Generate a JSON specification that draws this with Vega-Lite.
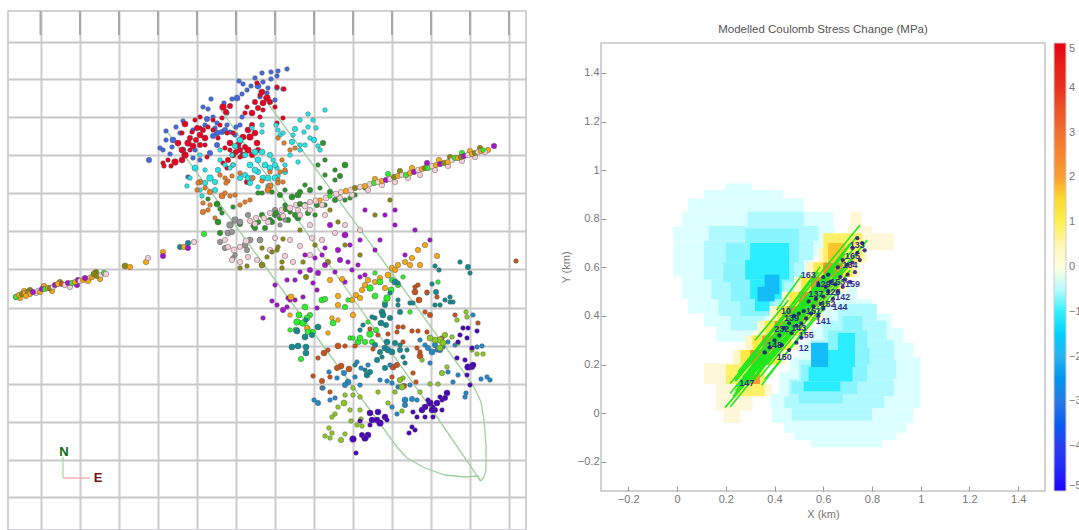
{"$schema":"https://vega.github.io/schema/vega-lite/v6.json","background":"white","padding":{"left":7,"top":9,"right":0,"bottom":0},"spacing":32,"config":{"font":"Liberation Sans","view":{"stroke":"#c4c4c8","strokeWidth":1.5},"axis":{"labelColor":"#777","titleColor":"#777","labelFontSize":11,"titleFontSize":11,"titleFontWeight":"normal","grid":false}},
"hconcat":[
{"width":518,"height":519,"layer":[
{"data":{"values":[{"x":40.5,"y":11,"y2":35},{"x":80,"y":11,"y2":35},{"x":119,"y":11,"y2":35},{"x":158,"y":11,"y2":35},{"x":197,"y":11,"y2":35},{"x":236,"y":11,"y2":35},{"x":275,"y":11,"y2":35},{"x":314,"y":11,"y2":35},{"x":353,"y":11,"y2":35},{"x":392,"y":11,"y2":35},{"x":431,"y":11,"y2":35},{"x":470,"y":11,"y2":35},{"x":509,"y":11,"y2":35}]},"mark":{"type":"rule","color":"#a8a8a8","strokeWidth":2},"encoding":{"x":{"field":"x","type":"quantitative","scale":{"domain":[8,526],"nice":false,"zero":false},"axis":{"values":[40.5,80,119,158,197,236,275,314,353,392,431,470,509],"labels":false,"ticks":false,"domain":false,"title":null,"grid":true,"gridColor":"#cccccc","gridWidth":2}},"y":{"field":"y","type":"quantitative","scale":{"domain":[11,530],"nice":false,"zero":false,"reverse":true},"axis":{"values":[41.5,79,117,155,193,231,269,307.5,345.5,383.5,421.5,459.5,497],"labels":false,"ticks":false,"domain":false,"title":null,"grid":true,"gridColor":"#c8c8c8","gridWidth":2}},"y2":{"field":"y2"}}},
{"data":{"values":[{"l":"A","o":1,"x":168,"y":133},{"l":"A","o":2,"x":270,"y":273},{"l":"A","o":3,"x":397,"y":447},{"l":"A","o":4,"x":407,"y":458},{"l":"A","o":5,"x":425,"y":468},{"l":"A","o":6,"x":445,"y":475},{"l":"A","o":7,"x":465,"y":477},{"l":"A","o":8,"x":478,"y":476},{"l":"A","o":9,"x":480,"y":481},{"l":"B","o":1,"x":221,"y":110},{"l":"B","o":2,"x":333,"y":270},{"l":"B","o":3,"x":437,"y":417},{"l":"B","o":4,"x":478,"y":477},{"l":"B","o":5,"x":481,"y":481},{"l":"C","o":1,"x":258,"y":90},{"l":"C","o":2,"x":392,"y":273},{"l":"C","o":3,"x":473,"y":385},{"l":"C","o":4,"x":481,"y":402},{"l":"C","o":5,"x":484,"y":420},{"l":"C","o":6,"x":486,"y":445},{"l":"C","o":7,"x":486,"y":470},{"l":"C","o":8,"x":484,"y":477},{"l":"C","o":9,"x":481,"y":481}]},"mark":{"type":"line","color":"#9fd09f","strokeWidth":1.3},"encoding":{"x":{"field":"x","type":"quantitative"},"y":{"field":"y","type":"quantitative"},"detail":{"field":"l"},"order":{"field":"o"}}},
{"data":{"values":[
{"g":"a","m":1,"x":287,"y":69},{"g":"a","m":1,"x":278,"y":71},{"g":"a","m":1,"x":271,"y":72},{"g":"a","m":1,"x":277,"y":76},{"g":"a","m":1,"x":271,"y":79},{"g":"a","m":1,"x":239,"y":81},{"g":"a","m":1,"x":243,"y":84},{"g":"a","m":3,"x":258,"y":86},{"g":"a","m":1,"x":263,"y":82},{"g":"a","m":1,"x":251,"y":86},{"g":"a","m":1,"x":247,"y":90},{"g":"a","m":1,"x":242,"y":94},{"g":"a","m":3,"x":237,"y":98},{"g":"a","m":1,"x":232,"y":99},{"g":"a","m":1,"x":211,"y":99},{"g":"a","m":1,"x":203,"y":107},{"g":"a","m":1,"x":208,"y":109},{"g":"a","m":1,"x":224,"y":103},{"g":"a","m":1,"x":227,"y":113},{"g":"a","m":2,"x":207,"y":119},{"g":"a","m":1,"x":213,"y":117},{"g":"a","m":1,"x":217,"y":123},{"g":"a","m":1,"x":227,"y":125},{"g":"a","m":1,"x":236,"y":127},{"g":"a","m":1,"x":176,"y":127},{"g":"a","m":1,"x":166,"y":131},{"g":"a","m":1,"x":183,"y":121},{"g":"a","m":1,"x":193,"y":130},{"g":"a","m":3,"x":173,"y":140},{"g":"a","m":1,"x":172,"y":147},{"g":"a","m":1,"x":163,"y":150},{"g":"a","m":1,"x":160,"y":148},{"g":"a","m":3,"x":183,"y":150},{"g":"a","m":1,"x":170,"y":154},{"g":"a","m":2,"x":149,"y":160},{"g":"a","m":3,"x":217,"y":133},{"g":"a","m":2,"x":222,"y":132},{"g":"a","m":2,"x":213,"y":136},{"g":"a","m":2,"x":217,"y":145},{"g":"a","m":2,"x":210,"y":153},{"g":"a","m":1,"x":200,"y":160},{"g":"a","m":1,"x":193,"y":158},{"g":"a","m":1,"x":188,"y":177},{"g":"a","m":1,"x":267,"y":93},{"g":"a","m":1,"x":277,"y":88},{"g":"a","m":1,"x":283,"y":89},{"g":"a","m":1,"x":275,"y":100},{"g":"a","m":1,"x":242,"y":117},{"g":"a","m":1,"x":230,"y":132},{"g":"a","m":1,"x":255,"y":78},{"g":"a","m":1,"x":262,"y":73},{"g":"a","m":1,"x":268,"y":88},{"g":"a","m":1,"x":215,"y":128},{"g":"a","m":1,"x":205,"y":125},{"g":"a","m":2,"x":225,"y":130},{"g":"a","m":1,"x":180,"y":133},{"g":"a","m":1,"x":166,"y":140},{"g":"a","m":1,"x":195,"y":150},{"g":"a","m":1,"x":235,"y":135},{"g":"a","m":1,"x":240,"y":125},{"g":"a","m":1,"x":260,"y":97},
{"g":"b","m":1,"x":284,"y":89},{"g":"b","m":1,"x":277,"y":87},{"g":"b","m":4,"x":267,"y":98},{"g":"b","m":3,"x":263,"y":103},{"g":"b","m":2,"x":255,"y":102},{"g":"b","m":1,"x":260,"y":95},{"g":"b","m":1,"x":257,"y":83},{"g":"b","m":1,"x":275,"y":107},{"g":"b","m":1,"x":283,"y":118},{"g":"b","m":1,"x":277,"y":123},{"g":"b","m":1,"x":260,"y":117},{"g":"b","m":3,"x":252,"y":113},{"g":"b","m":1,"x":245,"y":113},{"g":"b","m":1,"x":247,"y":107},{"g":"b","m":4,"x":223,"y":107},{"g":"b","m":2,"x":230,"y":106},{"g":"b","m":1,"x":200,"y":117},{"g":"b","m":1,"x":195,"y":120},{"g":"b","m":3,"x":185,"y":124},{"g":"b","m":1,"x":208,"y":127},{"g":"b","m":1,"x":213,"y":130},{"g":"b","m":3,"x":200,"y":135},{"g":"b","m":3,"x":205,"y":138},{"g":"b","m":1,"x":192,"y":132},{"g":"b","m":1,"x":182,"y":133},{"g":"b","m":4,"x":188,"y":143},{"g":"b","m":3,"x":193,"y":146},{"g":"b","m":2,"x":200,"y":145},{"g":"b","m":4,"x":185,"y":155},{"g":"b","m":4,"x":175,"y":162},{"g":"b","m":1,"x":190,"y":150},{"g":"b","m":1,"x":163,"y":163},{"g":"b","m":1,"x":164,"y":166},{"g":"b","m":1,"x":168,"y":160},{"g":"b","m":3,"x":230,"y":143},{"g":"b","m":1,"x":240,"y":142},{"g":"b","m":4,"x":250,"y":137},{"g":"b","m":3,"x":255,"y":133},{"g":"b","m":3,"x":248,"y":130},{"g":"b","m":3,"x":257,"y":143},{"g":"b","m":4,"x":248,"y":150},{"g":"b","m":3,"x":243,"y":155},{"g":"b","m":3,"x":233,"y":155},{"g":"b","m":1,"x":230,"y":150},{"g":"b","m":1,"x":225,"y":148},{"g":"b","m":1,"x":227,"y":133},{"g":"b","m":1,"x":240,"y":157},{"g":"b","m":1,"x":223,"y":163},{"g":"b","m":1,"x":227,"y":168},{"g":"b","m":1,"x":233,"y":165},{"g":"b","m":2,"x":247,"y":182},{"g":"b","m":1,"x":200,"y":128},{"g":"b","m":1,"x":213,"y":120},{"g":"b","m":1,"x":220,"y":125},{"g":"b","m":1,"x":207,"y":157},{"g":"b","m":1,"x":218,"y":138},{"g":"b","m":2,"x":245,"y":147},{"g":"b","m":1,"x":233,"y":133},{"g":"b","m":1,"x":263,"y":110},{"g":"b","m":3,"x":262,"y":92},{"g":"b","m":2,"x":270,"y":102},{"g":"b","m":2,"x":258,"y":108},{"g":"b","m":2,"x":226,"y":112},{"g":"b","m":1,"x":222,"y":118},{"g":"b","m":2,"x":197,"y":128},{"g":"b","m":2,"x":203,"y":130},{"g":"b","m":3,"x":178,"y":143},{"g":"b","m":3,"x":182,"y":150},{"g":"b","m":2,"x":190,"y":138},{"g":"b","m":2,"x":196,"y":140},{"g":"b","m":3,"x":182,"y":160},{"g":"b","m":1,"x":171,"y":166},{"g":"b","m":3,"x":238,"y":145},{"g":"b","m":3,"x":243,"y":137},{"g":"b","m":2,"x":252,"y":125},{"g":"b","m":2,"x":240,"y":150},{"g":"b","m":2,"x":236,"y":152},{"g":"b","m":2,"x":228,"y":160},{"g":"b","m":2,"x":252,"y":155},{"g":"b","m":2,"x":258,"y":150},{"g":"b","m":1,"x":205,"y":145},
{"g":"c","m":1,"x":325,"y":110},{"g":"c","m":1,"x":308,"y":114},{"g":"c","m":1,"x":300,"y":120},{"g":"c","m":1,"x":313,"y":120},{"g":"c","m":1,"x":308,"y":127},{"g":"c","m":1,"x":316,"y":128},{"g":"c","m":1,"x":318,"y":146},{"g":"c","m":1,"x":304,"y":132},{"g":"c","m":1,"x":252,"y":128},{"g":"c","m":1,"x":262,"y":125},{"g":"c","m":1,"x":276,"y":125},{"g":"c","m":1,"x":280,"y":135},{"g":"c","m":1,"x":278,"y":130},{"g":"c","m":1,"x":293,"y":135},{"g":"c","m":1,"x":283,"y":133},{"g":"c","m":2,"x":295,"y":129},{"g":"c","m":3,"x":240,"y":140},{"g":"c","m":2,"x":235,"y":146},{"g":"c","m":3,"x":255,"y":152},{"g":"c","m":3,"x":262,"y":152},{"g":"c","m":2,"x":270,"y":155},{"g":"c","m":3,"x":250,"y":165},{"g":"c","m":2,"x":258,"y":172},{"g":"c","m":3,"x":270,"y":168},{"g":"c","m":3,"x":263,"y":178},{"g":"c","m":2,"x":245,"y":175},{"g":"c","m":2,"x":240,"y":178},{"g":"c","m":1,"x":273,"y":160},{"g":"c","m":1,"x":285,"y":165},{"g":"c","m":3,"x":265,"y":165},{"g":"c","m":1,"x":220,"y":150},{"g":"c","m":1,"x":225,"y":165},{"g":"c","m":1,"x":232,"y":155},{"g":"c","m":1,"x":220,"y":160},{"g":"c","m":3,"x":195,"y":168},{"g":"c","m":1,"x":200,"y":155},{"g":"c","m":4,"x":210,"y":178},{"g":"c","m":2,"x":205,"y":183},{"g":"c","m":2,"x":215,"y":182},{"g":"c","m":1,"x":187,"y":186},{"g":"c","m":1,"x":200,"y":190},{"g":"c","m":2,"x":215,"y":190},{"g":"c","m":1,"x":233,"y":165},{"g":"c","m":1,"x":230,"y":168},{"g":"c","m":2,"x":250,"y":183},{"g":"c","m":1,"x":258,"y":187},{"g":"c","m":1,"x":290,"y":155},{"g":"c","m":1,"x":298,"y":162},{"g":"c","m":1,"x":277,"y":168},{"g":"c","m":1,"x":278,"y":176},{"g":"c","m":1,"x":310,"y":138},{"g":"c","m":1,"x":300,"y":150},{"g":"c","m":1,"x":268,"y":186},{"g":"c","m":1,"x":202,"y":196},{"g":"c","m":2,"x":245,"y":155},{"g":"c","m":3,"x":258,"y":160},{"g":"c","m":3,"x":275,"y":178},{"g":"c","m":3,"x":268,"y":178},{"g":"c","m":3,"x":255,"y":170},{"g":"c","m":2,"x":248,"y":178},{"g":"c","m":2,"x":275,"y":165},{"g":"c","m":2,"x":252,"y":178},{"g":"c","m":2,"x":285,"y":172},{"g":"c","m":2,"x":292,"y":142},{"g":"c","m":1,"x":300,"y":145},{"g":"c","m":1,"x":305,"y":145},{"g":"c","m":2,"x":314,"y":140},{"g":"c","m":1,"x":320,"y":150},{"g":"c","m":1,"x":262,"y":132},{"g":"c","m":1,"x":205,"y":170},{"g":"c","m":1,"x":190,"y":178},{"g":"c","m":2,"x":218,"y":170},
{"g":"d","m":1,"x":270,"y":172},{"g":"d","m":1,"x":285,"y":170},{"g":"d","m":1,"x":262,"y":181},{"g":"d","m":1,"x":280,"y":172},{"g":"d","m":1,"x":240,"y":173},{"g":"d","m":1,"x":278,"y":180},{"g":"d","m":3,"x":270,"y":186},{"g":"d","m":3,"x":268,"y":190},{"g":"d","m":1,"x":278,"y":183},{"g":"d","m":1,"x":283,"y":182},{"g":"d","m":1,"x":225,"y":178},{"g":"d","m":1,"x":228,"y":181},{"g":"d","m":1,"x":232,"y":176},{"g":"d","m":2,"x":200,"y":182},{"g":"d","m":2,"x":210,"y":192},{"g":"d","m":1,"x":197,"y":190},{"g":"d","m":1,"x":226,"y":183},{"g":"d","m":1,"x":198,"y":183},{"g":"d","m":1,"x":205,"y":188},{"g":"d","m":1,"x":235,"y":195},{"g":"d","m":3,"x":222,"y":196},{"g":"d","m":1,"x":230,"y":196},{"g":"d","m":1,"x":245,"y":202},{"g":"d","m":1,"x":250,"y":200},{"g":"d","m":1,"x":203,"y":203},{"g":"d","m":2,"x":203,"y":212},{"g":"d","m":1,"x":210,"y":205},{"g":"d","m":1,"x":225,"y":193},{"g":"d","m":1,"x":215,"y":218},{"g":"d","m":1,"x":253,"y":178},{"g":"d","m":1,"x":278,"y":138},{"g":"d","m":1,"x":284,"y":143},{"g":"d","m":1,"x":290,"y":150},{"g":"d","m":1,"x":282,"y":160},{"g":"d","m":1,"x":220,"y":175},{"g":"d","m":1,"x":240,"y":205},{"g":"d","m":1,"x":295,"y":148},{"g":"d","m":1,"x":208,"y":210},
{"g":"e","m":3,"x":217,"y":204},{"g":"e","m":1,"x":208,"y":199},{"g":"e","m":1,"x":220,"y":209},{"g":"e","m":3,"x":218,"y":222},{"g":"e","m":1,"x":222,"y":213},{"g":"e","m":1,"x":262,"y":193},{"g":"e","m":1,"x":258,"y":193},{"g":"e","m":1,"x":272,"y":192},{"g":"e","m":2,"x":280,"y":195},{"g":"e","m":3,"x":292,"y":197},{"g":"e","m":3,"x":298,"y":195},{"g":"e","m":1,"x":285,"y":205},{"g":"e","m":1,"x":290,"y":212},{"g":"e","m":3,"x":298,"y":218},{"g":"e","m":2,"x":272,"y":222},{"g":"e","m":2,"x":265,"y":228},{"g":"e","m":1,"x":253,"y":226},{"g":"e","m":1,"x":233,"y":207},{"g":"e","m":1,"x":305,"y":185},{"g":"e","m":1,"x":325,"y":175},{"g":"e","m":1,"x":318,"y":165},{"g":"e","m":1,"x":325,"y":160},{"g":"e","m":2,"x":340,"y":176},{"g":"e","m":3,"x":345,"y":165},{"g":"e","m":1,"x":335,"y":170},{"g":"e","m":1,"x":355,"y":195},{"g":"e","m":2,"x":330,"y":192},{"g":"e","m":2,"x":310,"y":190},{"g":"e","m":2,"x":305,"y":205},{"g":"e","m":1,"x":315,"y":215},{"g":"e","m":2,"x":275,"y":215},{"g":"e","m":2,"x":288,"y":220},{"g":"e","m":1,"x":325,"y":205},{"g":"e","m":2,"x":240,"y":224},{"g":"e","m":2,"x":255,"y":228},{"g":"e","m":1,"x":345,"y":200},{"g":"e","m":1,"x":365,"y":188},{"g":"e","m":2,"x":220,"y":233},{"g":"e","m":2,"x":323,"y":143},{"g":"e","m":2,"x":258,"y":222},{"g":"e","m":2,"x":270,"y":220},{"g":"e","m":2,"x":280,"y":218},{"g":"e","m":2,"x":295,"y":215},{"g":"e","m":2,"x":308,"y":213},{"g":"e","m":2,"x":317,"y":205},{"g":"e","m":2,"x":335,"y":200},{"g":"e","m":1,"x":350,"y":198},{"g":"e","m":2,"x":300,"y":192},{"g":"e","m":1,"x":320,"y":188},{"g":"e","m":1,"x":335,"y":180},{"g":"e","m":1,"x":285,"y":190},
{"g":"f","m":4,"x":230,"y":225},{"g":"f","m":4,"x":235,"y":220},{"g":"f","m":3,"x":228,"y":233},{"g":"f","m":2,"x":248,"y":215},{"g":"f","m":3,"x":240,"y":222},{"g":"f","m":3,"x":260,"y":240},{"g":"f","m":2,"x":220,"y":242},{"g":"f","m":2,"x":225,"y":248},{"g":"f","m":3,"x":245,"y":245},{"g":"f","m":3,"x":250,"y":240},{"g":"f","m":2,"x":247,"y":250},{"g":"f","m":1,"x":235,"y":255},{"g":"f","m":1,"x":233,"y":258},{"g":"f","m":2,"x":275,"y":210},{"g":"f","m":1,"x":278,"y":215},{"g":"f","m":1,"x":285,"y":220},{"g":"f","m":2,"x":232,"y":232},{"g":"f","m":1,"x":280,"y":225},
{"g":"g","m":2,"x":225,"y":240},{"g":"g","m":2,"x":228,"y":247},{"g":"g","m":3,"x":234,"y":250},{"g":"g","m":2,"x":240,"y":247},{"g":"g","m":3,"x":246,"y":241},{"g":"g","m":2,"x":232,"y":260},{"g":"g","m":2,"x":240,"y":262},{"g":"g","m":2,"x":248,"y":257},{"g":"g","m":2,"x":257,"y":260},{"g":"g","m":2,"x":290,"y":240},{"g":"g","m":2,"x":285,"y":256},{"g":"g","m":2,"x":300,"y":215},{"g":"g","m":2,"x":310,"y":225},{"g":"g","m":2,"x":325,"y":215},{"g":"g","m":2,"x":335,"y":233},{"g":"g","m":2,"x":300,"y":246},{"g":"g","m":2,"x":312,"y":238},{"g":"g","m":2,"x":322,"y":240},{"g":"g","m":2,"x":345,"y":225},{"g":"g","m":2,"x":360,"y":230},{"g":"g","m":2,"x":293,"y":262},{"g":"g","m":2,"x":310,"y":255},{"g":"g","m":2,"x":275,"y":238},{"g":"g","m":2,"x":270,"y":250},
{"g":"h","m":1,"x":283,"y":239},{"g":"h","m":1,"x":278,"y":247},{"g":"h","m":1,"x":277,"y":250},{"g":"h","m":1,"x":272,"y":252},{"g":"h","m":1,"x":262,"y":248},{"g":"h","m":3,"x":262,"y":265},{"g":"h","m":1,"x":267,"y":257},{"g":"h","m":1,"x":247,"y":266},{"g":"h","m":1,"x":240,"y":268},{"g":"h","m":1,"x":282,"y":262},{"g":"h","m":1,"x":300,"y":230},{"g":"h","m":1,"x":315,"y":245},{"g":"h","m":1,"x":330,"y":210},{"g":"h","m":1,"x":345,"y":245},{"g":"h","m":1,"x":360,"y":255},{"g":"h","m":2,"x":306,"y":277},{"g":"h","m":1,"x":282,"y":268},{"g":"h","m":2,"x":328,"y":262},{"g":"h","m":1,"x":338,"y":222},{"g":"h","m":1,"x":375,"y":215},{"g":"h","m":1,"x":390,"y":200},{"g":"h","m":1,"x":303,"y":262},
{"g":"i","m":2,"x":325,"y":265},{"g":"i","m":1,"x":348,"y":262},{"g":"i","m":1,"x":358,"y":265},{"g":"i","m":1,"x":365,"y":275},{"g":"i","m":1,"x":345,"y":282},{"g":"i","m":2,"x":318,"y":273},{"g":"i","m":1,"x":313,"y":283},{"g":"i","m":1,"x":317,"y":290},{"g":"i","m":1,"x":287,"y":280},{"g":"i","m":1,"x":295,"y":280},{"g":"i","m":1,"x":272,"y":301},{"g":"i","m":1,"x":277,"y":305},{"g":"i","m":1,"x":303,"y":297},{"g":"i","m":2,"x":283,"y":310},{"g":"i","m":1,"x":287,"y":307},{"g":"i","m":1,"x":317,"y":308},{"g":"i","m":1,"x":288,"y":298},{"g":"i","m":1,"x":360,"y":277},{"g":"i","m":2,"x":330,"y":225},{"g":"i","m":3,"x":345,"y":235},{"g":"i","m":1,"x":350,"y":245},{"g":"i","m":2,"x":338,"y":250},{"g":"i","m":1,"x":365,"y":210},{"g":"i","m":1,"x":385,"y":215},{"g":"i","m":1,"x":395,"y":225},{"g":"i","m":1,"x":380,"y":240},{"g":"i","m":1,"x":395,"y":210},{"g":"i","m":1,"x":360,"y":240},{"g":"i","m":1,"x":375,"y":250},{"g":"i","m":1,"x":405,"y":255},{"g":"i","m":1,"x":430,"y":240},{"g":"i","m":1,"x":415,"y":230},{"g":"i","m":1,"x":325,"y":248},{"g":"i","m":2,"x":340,"y":260},{"g":"i","m":1,"x":315,"y":258},{"g":"i","m":1,"x":263,"y":318},{"g":"i","m":1,"x":275,"y":285},{"g":"i","m":1,"x":290,"y":300},{"g":"i","m":1,"x":300,"y":272},{"g":"i","m":2,"x":310,"y":270},{"g":"i","m":1,"x":335,"y":272},{"g":"i","m":1,"x":352,"y":270},{"g":"i","m":1,"x":322,"y":255},{"g":"i","m":1,"x":305,"y":255},{"g":"i","m":1,"x":295,"y":300},
{"g":"j","m":3,"x":291,"y":297},{"g":"j","m":2,"x":338,"y":296},{"g":"j","m":2,"x":338,"y":305},{"g":"j","m":2,"x":360,"y":298},{"g":"j","m":2,"x":362,"y":290},{"g":"j","m":2,"x":365,"y":285},{"g":"j","m":2,"x":375,"y":282},{"g":"j","m":2,"x":385,"y":288},{"g":"j","m":2,"x":392,"y":268},{"g":"j","m":2,"x":398,"y":265},{"g":"j","m":3,"x":388,"y":275},{"g":"j","m":2,"x":405,"y":262},{"g":"j","m":2,"x":412,"y":258},{"g":"j","m":2,"x":420,"y":265},{"g":"j","m":2,"x":418,"y":250},{"g":"j","m":2,"x":425,"y":245},{"g":"j","m":2,"x":342,"y":279},{"g":"j","m":2,"x":330,"y":280},{"g":"j","m":2,"x":307,"y":328},{"g":"j","m":1,"x":328,"y":333},{"g":"j","m":2,"x":353,"y":315},{"g":"j","m":1,"x":290,"y":315},{"g":"j","m":1,"x":332,"y":318},{"g":"j","m":1,"x":338,"y":320},{"g":"j","m":2,"x":437,"y":256},{"g":"j","m":2,"x":352,"y":300},{"g":"j","m":2,"x":356,"y":295},{"g":"j","m":2,"x":380,"y":278},{"g":"j","m":2,"x":395,"y":270},{"g":"j","m":2,"x":368,"y":280},{"g":"j","m":2,"x":410,"y":265},
{"g":"k","m":4,"x":297,"y":322},{"g":"k","m":4,"x":303,"y":323},{"g":"k","m":3,"x":305,"y":307},{"g":"k","m":2,"x":310,"y":315},{"g":"k","m":3,"x":308,"y":332},{"g":"k","m":2,"x":313,"y":332},{"g":"k","m":3,"x":333,"y":323},{"g":"k","m":3,"x":322,"y":300},{"g":"k","m":2,"x":325,"y":299},{"g":"k","m":2,"x":345,"y":307},{"g":"k","m":1,"x":348,"y":300},{"g":"k","m":4,"x":370,"y":288},{"g":"k","m":3,"x":380,"y":282},{"g":"k","m":4,"x":387,"y":298},{"g":"k","m":2,"x":385,"y":303},{"g":"k","m":2,"x":398,"y":285},{"g":"k","m":1,"x":410,"y":312},{"g":"k","m":4,"x":370,"y":334},{"g":"k","m":3,"x":358,"y":342},{"g":"k","m":2,"x":365,"y":342},{"g":"k","m":2,"x":372,"y":342},{"g":"k","m":1,"x":350,"y":338},{"g":"k","m":1,"x":353,"y":338},{"g":"k","m":2,"x":301,"y":359},{"g":"k","m":1,"x":290,"y":330},{"g":"k","m":1,"x":368,"y":322},{"g":"k","m":1,"x":438,"y":282},{"g":"k","m":1,"x":375,"y":273},{"g":"k","m":1,"x":403,"y":277},{"g":"k","m":3,"x":299,"y":315},{"g":"k","m":3,"x":307,"y":318},{"g":"k","m":3,"x":296,"y":330},{"g":"k","m":3,"x":360,"y":338},{"g":"k","m":2,"x":376,"y":330},{"g":"k","m":3,"x":391,"y":290},{"g":"k","m":3,"x":375,"y":296},{"g":"k","m":2,"x":392,"y":280},
{"g":"l","m":3,"x":292,"y":347},{"g":"l","m":3,"x":298,"y":346},{"g":"l","m":3,"x":306,"y":347},{"g":"l","m":3,"x":306,"y":353},{"g":"l","m":3,"x":297,"y":331},{"g":"l","m":3,"x":305,"y":337},{"g":"l","m":2,"x":312,"y":335},{"g":"l","m":3,"x":318,"y":327},{"g":"l","m":1,"x":306,"y":320},{"g":"l","m":3,"x":395,"y":282},{"g":"l","m":1,"x":398,"y":283},{"g":"l","m":3,"x":382,"y":312},{"g":"l","m":3,"x":383,"y":315},{"g":"l","m":3,"x":381,"y":323},{"g":"l","m":1,"x":375,"y":318},{"g":"l","m":1,"x":372,"y":317},{"g":"l","m":1,"x":363,"y":325},{"g":"l","m":1,"x":360,"y":330},{"g":"l","m":2,"x":400,"y":312},{"g":"l","m":1,"x":398,"y":305},{"g":"l","m":3,"x":387,"y":342},{"g":"l","m":3,"x":385,"y":348},{"g":"l","m":3,"x":388,"y":350},{"g":"l","m":2,"x":395,"y":343},{"g":"l","m":2,"x":377,"y":360},{"g":"l","m":1,"x":382,"y":357},{"g":"l","m":3,"x":367,"y":375},{"g":"l","m":1,"x":365,"y":370},{"g":"l","m":1,"x":410,"y":303},{"g":"l","m":1,"x":413,"y":303},{"g":"l","m":1,"x":427,"y":293},{"g":"l","m":2,"x":436,"y":292},{"g":"l","m":1,"x":435,"y":305},{"g":"l","m":1,"x":440,"y":305},{"g":"l","m":1,"x":450,"y":297},{"g":"l","m":1,"x":450,"y":302},{"g":"l","m":1,"x":453,"y":302},{"g":"l","m":1,"x":432,"y":284},{"g":"l","m":1,"x":435,"y":266},{"g":"l","m":1,"x":439,"y":270},{"g":"l","m":2,"x":468,"y":267},{"g":"l","m":1,"x":470,"y":273},{"g":"l","m":1,"x":460,"y":262},{"g":"l","m":1,"x":403,"y":357},{"g":"l","m":1,"x":407,"y":350},{"g":"l","m":1,"x":400,"y":345},{"g":"l","m":1,"x":405,"y":363},{"g":"l","m":1,"x":390,"y":293},{"g":"l","m":1,"x":398,"y":300},{"g":"l","m":2,"x":375,"y":345},{"g":"l","m":3,"x":392,"y":352},{"g":"l","m":2,"x":400,"y":350},{"g":"l","m":2,"x":380,"y":352},{"g":"l","m":2,"x":370,"y":372},{"g":"l","m":2,"x":385,"y":368},{"g":"l","m":2,"x":385,"y":305},{"g":"l","m":2,"x":390,"y":318},{"g":"l","m":2,"x":386,"y":325},{"g":"l","m":1,"x":355,"y":365},{"g":"l","m":1,"x":445,"y":300},
{"g":"m","m":3,"x":338,"y":346},{"g":"m","m":3,"x":324,"y":353},{"g":"m","m":1,"x":318,"y":358},{"g":"m","m":1,"x":328,"y":350},{"g":"m","m":3,"x":341,"y":366},{"g":"m","m":3,"x":349,"y":369},{"g":"m","m":2,"x":337,"y":368},{"g":"m","m":1,"x":313,"y":376},{"g":"m","m":2,"x":322,"y":381},{"g":"m","m":1,"x":330,"y":377},{"g":"m","m":1,"x":345,"y":346},{"g":"m","m":1,"x":355,"y":346},{"g":"m","m":1,"x":373,"y":349},{"g":"m","m":1,"x":378,"y":335},{"g":"m","m":1,"x":388,"y":334},{"g":"m","m":1,"x":398,"y":327},{"g":"m","m":1,"x":403,"y":327},{"g":"m","m":1,"x":397,"y":332},{"g":"m","m":1,"x":412,"y":331},{"g":"m","m":1,"x":418,"y":331},{"g":"m","m":1,"x":427,"y":332},{"g":"m","m":3,"x":415,"y":292},{"g":"m","m":3,"x":419,"y":300},{"g":"m","m":1,"x":415,"y":287},{"g":"m","m":2,"x":430,"y":315},{"g":"m","m":1,"x":425,"y":312},{"g":"m","m":3,"x":420,"y":356},{"g":"m","m":3,"x":393,"y":367},{"g":"m","m":2,"x":397,"y":365},{"g":"m","m":1,"x":403,"y":342},{"g":"m","m":1,"x":417,"y":348},{"g":"m","m":1,"x":420,"y":352},{"g":"m","m":2,"x":404,"y":386},{"g":"m","m":1,"x":392,"y":377},{"g":"m","m":1,"x":322,"y":388},{"g":"m","m":1,"x":330,"y":392},{"g":"m","m":1,"x":413,"y":373},{"g":"m","m":1,"x":416,"y":382},{"g":"m","m":1,"x":370,"y":329},{"g":"m","m":1,"x":442,"y":338},{"g":"m","m":1,"x":455,"y":315},{"g":"m","m":1,"x":478,"y":323},{"g":"m","m":1,"x":516,"y":261},{"g":"m","m":1,"x":427,"y":292},{"g":"m","m":1,"x":418,"y":285},{"g":"m","m":1,"x":437,"y":297},
{"g":"n","m":3,"x":348,"y":382},{"g":"n","m":1,"x":355,"y":377},{"g":"n","m":2,"x":344,"y":373},{"g":"n","m":1,"x":337,"y":378},{"g":"n","m":1,"x":329,"y":372},{"g":"n","m":2,"x":318,"y":403},{"g":"n","m":1,"x":314,"y":400},{"g":"n","m":1,"x":330,"y":400},{"g":"n","m":1,"x":335,"y":398},{"g":"n","m":1,"x":357,"y":362},{"g":"n","m":1,"x":361,"y":368},{"g":"n","m":1,"x":368,"y":365},{"g":"n","m":1,"x":380,"y":380},{"g":"n","m":1,"x":387,"y":381},{"g":"n","m":1,"x":390,"y":365},{"g":"n","m":1,"x":392,"y":383},{"g":"n","m":1,"x":398,"y":387},{"g":"n","m":3,"x":405,"y":400},{"g":"n","m":2,"x":412,"y":399},{"g":"n","m":1,"x":417,"y":400},{"g":"n","m":3,"x":432,"y":352},{"g":"n","m":1,"x":437,"y":350},{"g":"n","m":1,"x":443,"y":347},{"g":"n","m":1,"x":448,"y":342},{"g":"n","m":1,"x":425,"y":345},{"g":"n","m":1,"x":477,"y":347},{"g":"n","m":1,"x":482,"y":346},{"g":"n","m":1,"x":481,"y":379},{"g":"n","m":1,"x":487,"y":377},{"g":"n","m":1,"x":490,"y":380},{"g":"n","m":1,"x":466,"y":393},{"g":"n","m":1,"x":465,"y":397},{"g":"n","m":1,"x":430,"y":363},{"g":"n","m":1,"x":448,"y":372},{"g":"n","m":1,"x":458,"y":375},{"g":"n","m":1,"x":453,"y":382},{"g":"n","m":1,"x":392,"y":407},{"g":"n","m":1,"x":397,"y":414},{"g":"n","m":1,"x":323,"y":388},{"g":"n","m":1,"x":473,"y":315},{"g":"n","m":2,"x":428,"y":348},{"g":"n","m":2,"x":435,"y":345},{"g":"n","m":2,"x":440,"y":350},{"g":"n","m":1,"x":420,"y":340},{"g":"n","m":2,"x":345,"y":385},{"g":"n","m":1,"x":360,"y":385},{"g":"n","m":1,"x":410,"y":385},{"g":"n","m":1,"x":455,"y":345},{"g":"n","m":2,"x":405,"y":405},
{"g":"o","m":3,"x":344,"y":403},{"g":"o","m":1,"x":338,"y":407},{"g":"o","m":1,"x":353,"y":388},{"g":"o","m":1,"x":353,"y":395},{"g":"o","m":1,"x":345,"y":395},{"g":"o","m":1,"x":360,"y":397},{"g":"o","m":1,"x":335,"y":414},{"g":"o","m":1,"x":332,"y":417},{"g":"o","m":1,"x":351,"y":421},{"g":"o","m":1,"x":361,"y":419},{"g":"o","m":1,"x":357,"y":425},{"g":"o","m":1,"x":362,"y":426},{"g":"o","m":1,"x":329,"y":428},{"g":"o","m":1,"x":332,"y":433},{"g":"o","m":1,"x":325,"y":436},{"g":"o","m":1,"x":330,"y":438},{"g":"o","m":2,"x":341,"y":440},{"g":"o","m":1,"x":345,"y":434},{"g":"o","m":3,"x":402,"y":387},{"g":"o","m":4,"x":440,"y":340},{"g":"o","m":3,"x":443,"y":343},{"g":"o","m":3,"x":435,"y":340},{"g":"o","m":2,"x":442,"y":373},{"g":"o","m":1,"x":447,"y":367},{"g":"o","m":1,"x":430,"y":384},{"g":"o","m":1,"x":438,"y":384},{"g":"o","m":1,"x":420,"y":392},{"g":"o","m":1,"x":403,"y":378},{"g":"o","m":1,"x":388,"y":403},{"g":"o","m":1,"x":402,"y":411},{"g":"o","m":1,"x":422,"y":360},{"g":"o","m":1,"x":472,"y":350},{"g":"o","m":1,"x":477,"y":354},{"g":"o","m":1,"x":483,"y":354},{"g":"o","m":1,"x":466,"y":312},{"g":"o","m":1,"x":467,"y":317},{"g":"o","m":1,"x":457,"y":320},{"g":"o","m":1,"x":452,"y":337},{"g":"o","m":1,"x":458,"y":343},{"g":"o","m":3,"x":430,"y":338},{"g":"o","m":3,"x":440,"y":348},{"g":"o","m":2,"x":445,"y":335},{"g":"o","m":2,"x":400,"y":380},{"g":"o","m":1,"x":395,"y":392},{"g":"o","m":1,"x":350,"y":410},{"g":"o","m":1,"x":378,"y":392},{"g":"o","m":1,"x":360,"y":410},
{"g":"p","m":3,"x":370,"y":413},{"g":"p","m":3,"x":378,"y":412},{"g":"p","m":3,"x":377,"y":420},{"g":"p","m":3,"x":385,"y":417},{"g":"p","m":4,"x":380,"y":423},{"g":"p","m":1,"x":387,"y":420},{"g":"p","m":1,"x":360,"y":421},{"g":"p","m":1,"x":370,"y":425},{"g":"p","m":3,"x":368,"y":435},{"g":"p","m":4,"x":365,"y":438},{"g":"p","m":4,"x":353,"y":439},{"g":"p","m":1,"x":356,"y":453},{"g":"p","m":1,"x":409,"y":433},{"g":"p","m":1,"x":412,"y":427},{"g":"p","m":1,"x":415,"y":430},{"g":"p","m":4,"x":430,"y":403},{"g":"p","m":3,"x":437,"y":403},{"g":"p","m":1,"x":442,"y":400},{"g":"p","m":3,"x":447,"y":393},{"g":"p","m":1,"x":440,"y":397},{"g":"p","m":3,"x":425,"y":407},{"g":"p","m":1,"x":417,"y":417},{"g":"p","m":1,"x":413,"y":412},{"g":"p","m":1,"x":425,"y":417},{"g":"p","m":1,"x":433,"y":417},{"g":"p","m":1,"x":442,"y":410},{"g":"p","m":4,"x":468,"y":367},{"g":"p","m":2,"x":472,"y":367},{"g":"p","m":1,"x":467,"y":375},{"g":"p","m":1,"x":470,"y":385},{"g":"p","m":1,"x":457,"y":358},{"g":"p","m":1,"x":463,"y":328},{"g":"p","m":1,"x":468,"y":328},{"g":"p","m":1,"x":477,"y":331},{"g":"p","m":1,"x":460,"y":335},{"g":"p","m":1,"x":467,"y":338},{"g":"p","m":1,"x":472,"y":348},{"g":"p","m":1,"x":458,"y":342},{"g":"p","m":1,"x":433,"y":407},{"g":"p","m":1,"x":428,"y":400},{"g":"p","m":3,"x":372,"y":420},{"g":"p","m":2,"x":362,"y":435},{"g":"p","m":2,"x":435,"y":410},{"g":"p","m":2,"x":445,"y":398},{"g":"p","m":3,"x":422,"y":410},{"g":"p","m":3,"x":432,"y":410},{"g":"p","m":3,"x":473,"y":365},{"g":"p","m":1,"x":465,"y":360},
{"g":"j","m":2,"x":20,"y":298},{"g":"j","m":2,"x":24,"y":291},{"g":"h","m":2,"x":30,"y":290},{"g":"g","m":2,"x":36,"y":293},{"g":"j","m":2,"x":44,"y":286},{"g":"j","m":2,"x":52,"y":291},{"g":"h","m":2,"x":60,"y":282},{"g":"g","m":2,"x":70,"y":287},{"g":"i","m":2,"x":77,"y":285},{"g":"g","m":2,"x":90,"y":278},{"g":"h","m":2,"x":96,"y":272},{"g":"j","m":2,"x":100,"y":279},
{"g":"j","m":2,"x":16,"y":297},{"g":"k","m":2,"x":16,"y":297},{"g":"j","m":2,"x":19,"y":295},{"g":"h","m":2,"x":22,"y":294},{"g":"j","m":2,"x":25,"y":293},{"g":"h","m":2,"x":28,"y":292},{"g":"j","m":2,"x":30,"y":294},{"g":"j","m":2,"x":26,"y":296},{"g":"i","m":2,"x":33,"y":292},{"g":"g","m":2,"x":38,"y":291},{"g":"j","m":2,"x":40,"y":292},{"g":"i","m":2,"x":42,"y":289},{"g":"k","m":2,"x":45,"y":289},{"g":"j","m":2,"x":48,"y":288},{"g":"h","m":2,"x":50,"y":288},{"g":"g","m":2,"x":53,"y":287},{"g":"i","m":2,"x":55,"y":285},{"g":"j","m":2,"x":58,"y":284},{"g":"m","m":2,"x":62,"y":284},{"g":"g","m":2,"x":65,"y":285},{"g":"i","m":2,"x":68,"y":283},{"g":"k","m":2,"x":72,"y":283},{"g":"j","m":2,"x":75,"y":282},{"g":"i","m":2,"x":78,"y":280},{"g":"g","m":2,"x":80,"y":281},{"g":"j","m":2,"x":83,"y":280},{"g":"j","m":2,"x":88,"y":281},{"g":"i","m":2,"x":85,"y":278},{"g":"j","m":2,"x":92,"y":277},{"g":"h","m":3,"x":94,"y":274},{"g":"h","m":2,"x":97,"y":276},{"g":"g","m":2,"x":101,"y":275},{"g":"k","m":2,"x":104,"y":273},{"g":"g","m":2,"x":106,"y":274},
{"g":"h","m":3,"x":125,"y":266},{"g":"j","m":2,"x":130,"y":267},{"g":"j","m":2,"x":146,"y":262},{"g":"g","m":2,"x":148,"y":258},{"g":"j","m":2,"x":163,"y":252},{"g":"i","m":2,"x":163,"y":256},{"g":"l","m":2,"x":180,"y":247},{"g":"j","m":2,"x":184,"y":247},{"g":"l","m":2,"x":188,"y":243},{"g":"i","m":2,"x":188,"y":248},{"g":"g","m":2,"x":194,"y":242},{"g":"k","m":2,"x":204,"y":234},{"g":"i","m":2,"x":494,"y":146},
{"g":"g","m":2,"x":255,"y":224},{"g":"g","m":2,"x":268,"y":222},{"g":"g","m":2,"x":283,"y":216},{"g":"g","m":2,"x":298,"y":210},{"g":"g","m":2,"x":310,"y":210},{"g":"g","m":2,"x":322,"y":205},{"g":"g","m":2,"x":340,"y":198},{"g":"g","m":2,"x":352,"y":195},{"g":"g","m":2,"x":368,"y":190},{"g":"g","m":2,"x":382,"y":185},{"g":"g","m":2,"x":395,"y":182},{"g":"g","m":2,"x":408,"y":178},{"g":"g","m":2,"x":420,"y":175},{"g":"g","m":2,"x":435,"y":170},{"g":"g","m":2,"x":448,"y":166},{"g":"g","m":2,"x":462,"y":161},{"g":"g","m":2,"x":475,"y":157},
{"g":"j","m":2,"x":375,"y":179},{"g":"k","m":2,"x":388,"y":174},{"g":"h","m":2,"x":400,"y":171},{"g":"j","m":2,"x":412,"y":168},{"g":"i","m":2,"x":427,"y":163},{"g":"j","m":2,"x":439,"y":160},{"g":"h","m":2,"x":450,"y":157},{"g":"k","m":2,"x":462,"y":153},{"g":"j","m":2,"x":470,"y":151},{"g":"h","m":2,"x":480,"y":148},{"g":"j","m":2,"x":488,"y":150},{"g":"g","m":2,"x":485,"y":152},
{"g":"g","m":2,"x":250,"y":221},{"g":"g","m":2,"x":256,"y":218},{"g":"e","m":2,"x":262,"y":215},{"g":"g","m":2,"x":264,"y":218},{"g":"g","m":2,"x":270,"y":213},{"g":"e","m":2,"x":276,"y":213},{"g":"g","m":3,"x":282,"y":210},{"g":"e","m":2,"x":286,"y":209},{"g":"g","m":3,"x":290,"y":208},{"g":"g","m":2,"x":296,"y":205},{"g":"e","m":2,"x":300,"y":204},{"g":"g","m":3,"x":305,"y":206},{"g":"g","m":2,"x":310,"y":202},{"g":"g","m":3,"x":316,"y":201},{"g":"j","m":1,"x":320,"y":200},{"g":"g","m":3,"x":326,"y":198},{"g":"k","m":1,"x":330,"y":196},{"g":"g","m":3,"x":336,"y":194},{"g":"g","m":2,"x":341,"y":192},{"g":"j","m":2,"x":346,"y":191},{"g":"g","m":3,"x":351,"y":190},{"g":"h","m":2,"x":355,"y":188},{"g":"g","m":2,"x":360,"y":187},{"g":"j","m":2,"x":365,"y":186},{"g":"g","m":2,"x":370,"y":184},{"g":"k","m":2,"x":374,"y":183},{"g":"g","m":2,"x":378,"y":182},{"g":"j","m":2,"x":382,"y":181},{"g":"i","m":2,"x":386,"y":180},{"g":"g","m":2,"x":390,"y":179},{"g":"h","m":2,"x":394,"y":177},{"g":"j","m":2,"x":398,"y":176},{"g":"g","m":2,"x":402,"y":175},{"g":"k","m":2,"x":406,"y":175},{"g":"j","m":2,"x":410,"y":173},{"g":"i","m":2,"x":414,"y":172},{"g":"g","m":2,"x":418,"y":170},{"g":"j","m":2,"x":422,"y":169},{"g":"h","m":2,"x":425,"y":168},{"g":"k","m":2,"x":428,"y":168},{"g":"g","m":2,"x":432,"y":166},{"g":"j","m":2,"x":436,"y":165},{"g":"i","m":2,"x":440,"y":164},{"g":"h","m":2,"x":444,"y":163},{"g":"j","m":2,"x":448,"y":162},{"g":"g","m":2,"x":452,"y":160},{"g":"k","m":2,"x":455,"y":158},{"g":"j","m":2,"x":458,"y":158},{"g":"h","m":2,"x":461,"y":157},{"g":"i","m":2,"x":464,"y":156},{"g":"g","m":2,"x":468,"y":155},{"g":"j","m":2,"x":472,"y":154},{"g":"h","m":2,"x":475,"y":153},{"g":"g","m":2,"x":478,"y":152},{"g":"j","m":2,"x":481,"y":151},{"g":"k","m":1,"x":483,"y":150}
]},"mark":{"type":"point","filled":true,"shape":"circle","strokeWidth":1,"stroke":"#555","strokeOpacity":0.45,"opacity":1},"encoding":{"x":{"field":"x","type":"quantitative"},"y":{"field":"y","type":"quantitative"},"size":{"field":"m","type":"ordinal","legend":null,"scale":{"domain":[1,2,3,4],"range":[22,45,95,165]}},"color":{"field":"g","type":"nominal","legend":null,"scale":{"domain":["a","b","c","d","e","f","g","h","i","j","k","l","m","n","o","p"],"range":["#4169e1","#ea0020","#22e6e6","#e87a22","#2a962a","#959595","#f5cfd8","#8a8a10","#a512d2","#f8a812","#2cf02c","#128a90","#c85218","#2089c9","#8cc822","#4a04bc"]}}}},
{"data":{"values":[{"x":63,"y":478,"x2":63,"y2":457,"c":"n"},{"x":63,"y":478,"x2":90,"y2":478,"c":"e"}]},"mark":{"type":"rule","strokeWidth":1.2},"encoding":{"x":{"field":"x","type":"quantitative"},"y":{"field":"y","type":"quantitative"},"x2":{"field":"x2"},"y2":{"field":"y2"},"color":{"field":"c","type":"nominal","legend":null,"scale":{"domain":["n","e"],"range":["#8ee88e","#f0a0a0"]}}}},
{"data":{"values":[{"x":64,"y":452,"t":"N","c":"#0b6a12"},{"x":98,"y":478,"t":"E","c":"#7a1010"}]},"mark":{"type":"text","fontWeight":"bold","fontSize":13,"align":"center","baseline":"middle"},"encoding":{"x":{"field":"x","type":"quantitative"},"y":{"field":"y","type":"quantitative"},"text":{"field":"t"},"color":{"field":"c","type":"nominal","scale":null}}}
],"resolve":{"scale":{"color":"independent"}}},
{"spacing":0,"resolve":{"scale":{"color":"independent"},"legend":{"color":"independent"}},"vconcat":[
{"width":444,"height":31,"view":{"stroke":null},"data":{"values":[{"t":"Modelled Coulomb Stress Change (MPa)"}]},"mark":{"type":"text","fontSize":11.5,"color":"#555","dy":3},"encoding":{"text":{"field":"t"}}},
{"width":444,"height":448,"layer":[
{"data":{"values":[
{"x":0.2,"x2":0.31,"y":0.945,"y2":0.918,"v":-0.25},{"x":0.11,"x2":0.435,"y":0.918,"y2":0.883,"v":-0.25},{"x":0.045,"x2":0.52,"y":0.883,"y2":0.829,"v":-0.25},{"x":0.02,"x2":0.64,"y":0.829,"y2":0.767,"v":-0.25},{"x":-0.015,"x2":0.645,"y":0.767,"y2":0.712,"v":-0.25},{"x":-0.015,"x2":0.6,"y":0.712,"y2":0.643,"v":-0.25},{"x":-0.015,"x2":0.545,"y":0.643,"y2":0.561,"v":-0.25},{"x":0.02,"x2":0.48,"y":0.561,"y2":0.472,"v":-0.25},{"x":0.045,"x2":0.44,"y":0.472,"y2":0.41,"v":-0.25},{"x":0.11,"x2":0.38,"y":0.41,"y2":0.355,"v":-0.25},{"x":0.16,"x2":0.31,"y":0.355,"y2":0.294,"v":-0.25},
{"x":0.29,"x2":0.52,"y":0.83,"y2":0.77,"v":-0.55},{"x":0.13,"x2":0.58,"y":0.77,"y2":0.71,"v":-0.55},{"x":0.11,"x2":0.56,"y":0.71,"y2":0.63,"v":-0.55},{"x":0.11,"x2":0.52,"y":0.63,"y2":0.55,"v":-0.55},{"x":0.14,"x2":0.48,"y":0.55,"y2":0.47,"v":-0.55},{"x":0.17,"x2":0.44,"y":0.47,"y2":0.4,"v":-0.55},{"x":0.22,"x2":0.36,"y":0.4,"y2":0.34,"v":-0.55},
{"x":0.28,"x2":0.5,"y":0.76,"y2":0.7,"v":-0.75},{"x":0.2,"x2":0.5,"y":0.7,"y2":0.62,"v":-0.75},{"x":0.19,"x2":0.48,"y":0.62,"y2":0.54,"v":-0.75},{"x":0.22,"x2":0.44,"y":0.54,"y2":0.46,"v":-0.75},{"x":0.26,"x2":0.4,"y":0.46,"y2":0.4,"v":-0.75},
{"x":0.3,"x2":0.46,"y":0.7,"y2":0.63,"v":-1.05},{"x":0.28,"x2":0.46,"y":0.63,"y2":0.55,"v":-1.05},{"x":0.3,"x2":0.43,"y":0.55,"y2":0.47,"v":-1.05},{"x":0.32,"x2":0.38,"y":0.47,"y2":0.42,"v":-1.05},
{"x":0.36,"x2":0.42,"y":0.57,"y2":0.49,"v":-1.8},{"x":0.33,"x2":0.4,"y":0.52,"y2":0.46,"v":-1.8},
{"x":0.62,"x2":0.74,"y":0.53,"y2":0.47,"v":-0.25},{"x":0.6,"x2":0.8,"y":0.47,"y2":0.41,"v":-0.25},{"x":0.58,"x2":0.88,"y":0.41,"y2":0.35,"v":-0.25},{"x":0.54,"x2":0.93,"y":0.35,"y2":0.29,"v":-0.25},{"x":0.5,"x2":0.97,"y":0.29,"y2":0.23,"v":-0.25},{"x":0.46,"x2":1,"y":0.23,"y2":0.17,"v":-0.25},{"x":0.42,"x2":1,"y":0.17,"y2":0.08,"v":-0.25},{"x":0.38,"x2":1,"y":0.08,"y2":0.02,"v":-0.25},{"x":0.39,"x2":0.97,"y":0.02,"y2":-0.04,"v":-0.25},{"x":0.44,"x2":0.94,"y":-0.04,"y2":-0.08,"v":-0.25},{"x":0.48,"x2":0.9,"y":-0.08,"y2":-0.11,"v":-0.25},{"x":0.55,"x2":0.84,"y":-0.11,"y2":-0.14,"v":-0.25},
{"x":0.66,"x2":0.82,"y":0.45,"y2":0.38,"v":-0.55},{"x":0.6,"x2":0.86,"y":0.38,"y2":0.3,"v":-0.55},{"x":0.55,"x2":0.89,"y":0.3,"y2":0.22,"v":-0.55},{"x":0.5,"x2":0.9,"y":0.22,"y2":0.14,"v":-0.55},{"x":0.46,"x2":0.89,"y":0.14,"y2":0.07,"v":-0.55},{"x":0.44,"x2":0.85,"y":0.07,"y2":0.02,"v":-0.55},{"x":0.47,"x2":0.8,"y":0.02,"y2":-0.03,"v":-0.55},
{"x":0.68,"x2":0.76,"y":0.4,"y2":0.34,"v":-0.75},{"x":0.62,"x2":0.78,"y":0.34,"y2":0.27,"v":-0.75},{"x":0.56,"x2":0.79,"y":0.27,"y2":0.2,"v":-0.75},{"x":0.51,"x2":0.78,"y":0.2,"y2":0.13,"v":-0.75},{"x":0.47,"x2":0.74,"y":0.13,"y2":0.08,"v":-0.75},{"x":0.5,"x2":0.68,"y":0.08,"y2":0.04,"v":-0.75},
{"x":0.66,"x2":0.73,"y":0.33,"y2":0.26,"v":-1.05},{"x":0.6,"x2":0.73,"y":0.26,"y2":0.19,"v":-1.05},{"x":0.54,"x2":0.72,"y":0.19,"y2":0.13,"v":-1.05},{"x":0.52,"x2":0.67,"y":0.13,"y2":0.09,"v":-1.05},
{"x":0.55,"x2":0.62,"y":0.29,"y2":0.19,"v":-1.8},
{"x":0.11,"x2":0.34,"y":0.205,"y2":0.12,"v":0.3},{"x":0.16,"x2":0.39,"y":0.12,"y2":0.07,"v":0.3},{"x":0.16,"x2":0.31,"y":0.07,"y2":0.01,"v":0.3},{"x":0.19,"x2":0.26,"y":0.01,"y2":-0.04,"v":0.3},{"x":0.71,"x2":0.76,"y":0.83,"y2":0.77,"v":0.3},{"x":0.7,"x2":0.8,"y":0.77,"y2":0.74,"v":0.3},{"x":0.64,"x2":0.89,"y":0.74,"y2":0.67,"v":0.3},
{"x":0.23,"x2":0.45,"y":0.26,"y2":0.2,"v":0.4},{"x":0.28,"x2":0.5,"y":0.32,"y2":0.26,"v":0.4},{"x":0.33,"x2":0.55,"y":0.38,"y2":0.32,"v":0.4},{"x":0.38,"x2":0.6,"y":0.44,"y2":0.38,"v":0.4},{"x":0.43,"x2":0.65,"y":0.5,"y2":0.44,"v":0.4},{"x":0.48,"x2":0.7,"y":0.56,"y2":0.5,"v":0.4},{"x":0.53,"x2":0.75,"y":0.62,"y2":0.56,"v":0.4},{"x":0.58,"x2":0.78,"y":0.68,"y2":0.62,"v":0.4},
{"x":0.2,"x2":0.36,"y":0.2,"y2":0.12,"v":0.9},{"x":0.24,"x2":0.36,"y":0.12,"y2":0.07,"v":0.9},{"x":0.26,"x2":0.42,"y":0.26,"y2":0.2,"v":1.2},{"x":0.31,"x2":0.47,"y":0.32,"y2":0.26,"v":1.2},{"x":0.36,"x2":0.52,"y":0.38,"y2":0.32,"v":1.2},{"x":0.41,"x2":0.57,"y":0.44,"y2":0.38,"v":1.2},{"x":0.46,"x2":0.62,"y":0.5,"y2":0.44,"v":1.2},{"x":0.51,"x2":0.67,"y":0.56,"y2":0.5,"v":1.2},{"x":0.56,"x2":0.72,"y":0.62,"y2":0.56,"v":1.2},{"x":0.6,"x2":0.76,"y":0.74,"y2":0.62,"v":0.9},
{"x":0.28,"x2":0.34,"y":0.16,"y2":0.12,"v":2.2},{"x":0.3,"x2":0.38,"y":0.26,"y2":0.2,"v":2.4},{"x":0.35,"x2":0.43,"y":0.32,"y2":0.26,"v":2.4},{"x":0.4,"x2":0.48,"y":0.38,"y2":0.32,"v":2.4},{"x":0.45,"x2":0.53,"y":0.44,"y2":0.38,"v":2.4},{"x":0.5,"x2":0.58,"y":0.5,"y2":0.44,"v":2.4},{"x":0.55,"x2":0.63,"y":0.56,"y2":0.5,"v":2.4},{"x":0.6,"x2":0.68,"y":0.62,"y2":0.56,"v":2.4},{"x":0.62,"x2":0.69,"y":0.7,"y2":0.62,"v":1.7}
]},"mark":{"type":"rect","stroke":null},"encoding":{"x":{"field":"x","type":"quantitative","scale":{"domain":[-0.312,1.51],"nice":false,"zero":false},"axis":{"values":[-0.2,0,0.2,0.4,0.6,0.8,1,1.2,1.4],"format":".2~f","title":"X (km)","tickSize":-5,"tickColor":"#999","domain":false,"labelPadding":7,"titlePadding":4}},"x2":{"field":"x2"},"y":{"field":"y","type":"quantitative","scale":{"domain":[-0.32,1.523],"nice":false,"zero":false},"axis":{"values":[-0.2,0,0.2,0.4,0.6,0.8,1,1.2,1.4],"format":".2~f","title":"Y (km)","tickSize":-5,"tickColor":"#999","domain":false,"labelPadding":7,"titlePadding":6}},"y2":{"field":"y2"},"color":{"field":"v","type":"quantitative","scale":{"domain":[-5,-4,-3,-2,-1,-0.6,-0.25,0,0.3,0.6,1,1.5,2,3,4,5],"range":["#2000ff","#2a3cf0","#2878e8","#28b0f2","#30f0ff","#a8f8ff","#dcffff","#ffffff","#fff8d8","#fff4a0","#fff050","#fcdc30","#f8a030","#f07030","#e83020","#e80010"]},"legend":{"orient":"right","offset":9,"gradientLength":448,"gradientThickness":12,"title":null,"values":[-5,-4,-3,-2,-1,0,1,2,3,4,5],"labelColor":"#777","labelFontSize":11,"labelOverlap":false,"labelOffset":3,"gradientStrokeColor":"#ccc","gradientStrokeWidth":1}}}},
{"data":{"values":[
{"x":0.218,"y":0.122,"x2":0.751,"y2":0.774},{"x":0.197,"y":0.023,"x2":0.781,"y2":0.712},{"x":0.218,"y":0.081,"x2":0.737,"y2":0.726},{"x":0.259,"y":0.115,"x2":0.731,"y2":0.684},{"x":0.409,"y":0.424,"x2":0.512,"y2":0.568},{"x":0.32,"y":0.3,"x2":0.457,"y2":0.465},{"x":0.218,"y":0.026,"x2":0.696,"y2":0.616},{"x":0.245,"y":0.108,"x2":0.71,"y2":0.698},{"x":0.347,"y":0.115,"x2":0.71,"y2":0.588},{"x":0.293,"y":0.177,"x2":0.614,"y2":0.561},{"x":0.341,"y":0.15,"x2":0.669,"y2":0.547},{"x":0.272,"y":0.15,"x2":0.642,"y2":0.588},{"x":0.238,"y":0.136,"x2":0.546,"y2":0.547},{"x":0.3,"y":0.218,"x2":0.587,"y2":0.602},{"x":0.313,"y":0.19,"x2":0.689,"y2":0.657},{"x":0.26,"y":0.16,"x2":0.7,"y2":0.68},{"x":0.28,"y":0.13,"x2":0.66,"y2":0.62},{"x":0.25,"y":0.17,"x2":0.58,"y2":0.58},{"x":0.33,"y":0.2,"x2":0.62,"y2":0.55},{"x":0.24,"y":0.09,"x2":0.64,"y2":0.6},{"x":0.24,"y":0.13,"x2":0.52,"y2":0.47},{"x":0.27,"y":0.14,"x2":0.5,"y2":0.42},{"x":0.26,"y":0.12,"x2":0.44,"y2":0.34},{"x":0.29,"y":0.12,"x2":0.48,"y2":0.34},{"x":0.31,"y":0.13,"x2":0.55,"y2":0.44},{"x":0.33,"y":0.17,"x2":0.6,"y2":0.5},{"x":0.36,"y":0.14,"x2":0.66,"y2":0.5},{"x":0.37,"y":0.2,"x2":0.7,"y2":0.6},{"x":0.4,"y":0.28,"x2":0.72,"y2":0.64},{"x":0.42,"y":0.3,"x2":0.66,"y2":0.58},{"x":0.3,"y":0.15,"x2":0.43,"y2":0.3},{"x":0.23,"y":0.07,"x2":0.37,"y2":0.24},{"x":0.46,"y":0.33,"x2":0.74,"y2":0.66},{"x":0.35,"y":0.25,"x2":0.6,"y2":0.55}
]},"mark":{"type":"rule","color":"#1ee81e","strokeWidth":1.6},"encoding":{"x":{"field":"x","type":"quantitative"},"y":{"field":"y","type":"quantitative"},"x2":{"field":"x2"},"y2":{"field":"y2"}}},
{"data":{"values":[
{"x":0.47,"y":0.33},{"x":0.49,"y":0.36},{"x":0.51,"y":0.37},{"x":0.53,"y":0.39},{"x":0.55,"y":0.41},{"x":0.56,"y":0.44},{"x":0.54,"y":0.46},{"x":0.57,"y":0.47},{"x":0.59,"y":0.45},{"x":0.6,"y":0.48},{"x":0.62,"y":0.5},{"x":0.61,"y":0.52},{"x":0.63,"y":0.54},{"x":0.65,"y":0.53},{"x":0.67,"y":0.56},{"x":0.69,"y":0.55},{"x":0.71,"y":0.54},{"x":0.66,"y":0.6},{"x":0.68,"y":0.63},{"x":0.7,"y":0.61},{"x":0.72,"y":0.62},{"x":0.74,"y":0.66},{"x":0.72,"y":0.68},{"x":0.76,"y":0.7},{"x":0.74,"y":0.72},{"x":0.77,"y":0.67},{"x":0.58,"y":0.4},{"x":0.6,"y":0.43},{"x":0.52,"y":0.42},{"x":0.5,"y":0.41},{"x":0.48,"y":0.4},{"x":0.46,"y":0.37},{"x":0.44,"y":0.35},{"x":0.42,"y":0.32},{"x":0.4,"y":0.3},{"x":0.43,"y":0.28},{"x":0.46,"y":0.26},{"x":0.49,"y":0.29},{"x":0.51,"y":0.31},{"x":0.38,"y":0.27},{"x":0.36,"y":0.25},{"x":0.66,"y":0.5},{"x":0.64,"y":0.47},{"x":0.7,"y":0.57},{"x":0.68,"y":0.52},{"x":0.73,"y":0.58},{"x":0.75,"y":0.63},{"x":0.62,"y":0.57},{"x":0.6,"y":0.56},{"x":0.58,"y":0.53}
]},"mark":{"type":"circle","color":"#1a0a80","size":18,"opacity":0.8},"encoding":{"x":{"field":"x","type":"quantitative"},"y":{"field":"y","type":"quantitative"}}},
{"data":{"values":[
{"t":"163","x":0.539,"y":0.568},{"t":"147","x":0.286,"y":0.125},{"t":"10","x":0.447,"y":0.421},{"t":"144","x":0.669,"y":0.438},{"t":"142","x":0.68,"y":0.48},{"t":"133","x":0.74,"y":0.69},{"t":"165","x":0.72,"y":0.645},{"t":"134","x":0.71,"y":0.61},{"t":"153","x":0.66,"y":0.54},{"t":"159","x":0.72,"y":0.53},{"t":"152","x":0.62,"y":0.45},{"t":"151","x":0.56,"y":0.42},{"t":"232","x":0.43,"y":0.345},{"t":"143","x":0.5,"y":0.35},{"t":"141","x":0.6,"y":0.38},{"t":"155","x":0.53,"y":0.32},{"t":"12","x":0.52,"y":0.27},{"t":"148","x":0.4,"y":0.28},{"t":"150","x":0.44,"y":0.23},{"t":"137","x":0.57,"y":0.49},{"t":"129","x":0.6,"y":0.53},{"t":"126","x":0.64,"y":0.5},{"t":"139","x":0.47,"y":0.39}
]},"mark":{"type":"text","fontSize":9,"fontWeight":"bold","color":"#2a1a8a","opacity":0.9},"encoding":{"x":{"field":"x","type":"quantitative"},"y":{"field":"y","type":"quantitative"},"text":{"field":"t"}}}
]}
]}
],"resolve":{"scale":{"color":"independent","size":"independent"},"legend":{"color":"independent"}}}
